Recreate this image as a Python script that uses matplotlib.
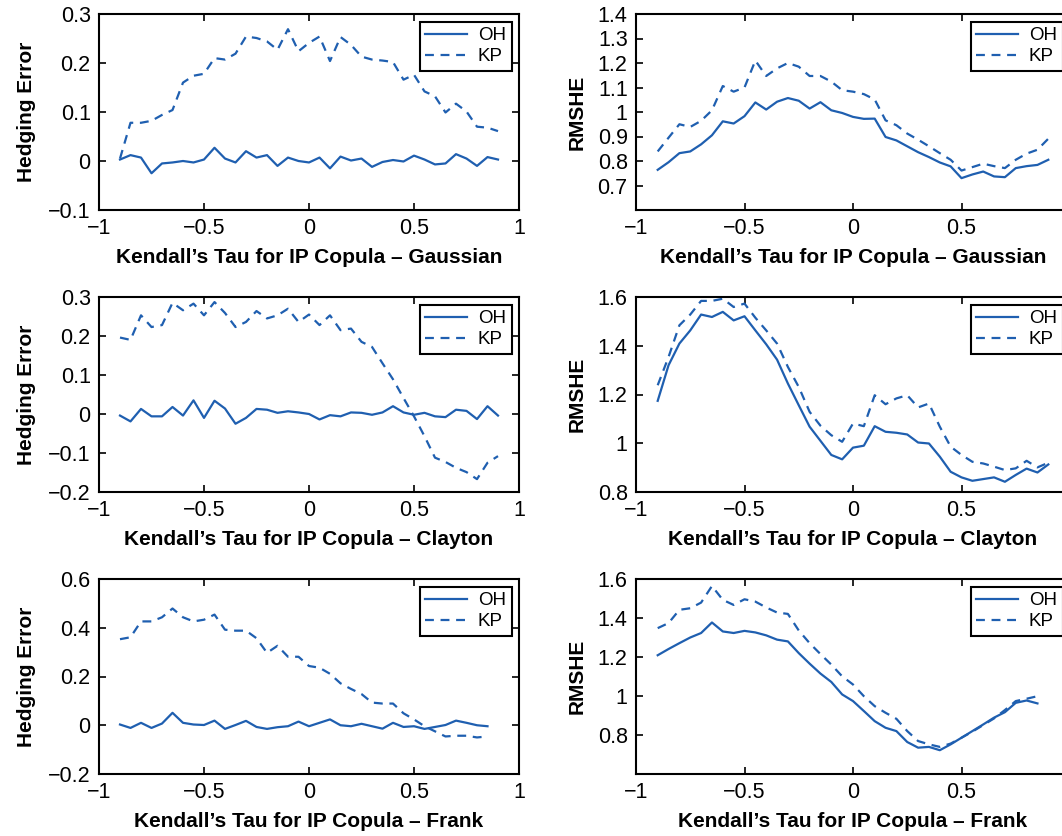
import numpy as np
import matplotlib
matplotlib.use('Agg')
import matplotlib.pyplot as plt

plt.rcParams['font.family'] = ['Liberation Sans', 'DejaVu Sans']

BLUE = '#1f5fb0'

# Kendall's tau grid
tau = np.round(np.arange(-0.9, 0.9001, 0.05), 2)
tau_frank = tau[:-1]  # Frank stops at 0.85

# Gaussian
gauss_he_oh = [0.003, 0.012, 0.007, -0.025, -0.005, -0.003, 0.0, -0.003, 0.003, 0.027,
               0.005, -0.003, 0.02, 0.007, 0.012, -0.01, 0.007, 0.0, -0.003, 0.007,
               -0.015, 0.009, 0.001, 0.005, -0.012, -0.002, 0.002, -0.001, 0.011, 0.003,
               -0.007, -0.005, 0.014, 0.005, -0.01, 0.008, 0.003]
gauss_he_kp = [0.005, 0.078, 0.078, 0.082, 0.094, 0.104, 0.16, 0.174, 0.178, 0.21,
               0.207, 0.219, 0.254, 0.251, 0.244, 0.227, 0.269, 0.224, 0.241, 0.254,
               0.204, 0.253, 0.237, 0.213, 0.207, 0.205, 0.202, 0.166, 0.176, 0.142,
               0.132, 0.099, 0.117, 0.101, 0.07, 0.068, 0.061]
gauss_rm_oh = [0.764, 0.795, 0.832, 0.839, 0.868, 0.905, 0.962, 0.953, 0.983, 1.039,
               1.01, 1.042, 1.057, 1.046, 1.014, 1.04, 1.007, 0.996, 0.98, 0.972,
               0.973, 0.898, 0.884, 0.86, 0.836, 0.816, 0.794, 0.778, 0.73, 0.745,
               0.757, 0.737, 0.734, 0.771, 0.779, 0.784, 0.805]
gauss_rm_kp = [0.839, 0.895, 0.95, 0.939, 0.964, 1.007, 1.106, 1.083, 1.1, 1.21,
               1.147, 1.178, 1.2, 1.185, 1.147, 1.147, 1.124, 1.089, 1.083, 1.073,
               1.051, 0.966, 0.946, 0.912, 0.887, 0.86, 0.832, 0.805, 0.761, 0.775,
               0.789, 0.779, 0.771, 0.805, 0.83, 0.846, 0.891]

# Clayton
clay_he_oh = [-0.004, -0.019, 0.013, -0.006, -0.006, 0.018, -0.004, 0.035, -0.01, 0.034,
              0.014, -0.025, -0.01, 0.013, 0.011, 0.003, 0.007, 0.004, 0.0, -0.014,
              -0.003, -0.006, 0.004, 0.003, -0.002, 0.004, 0.02, 0.004, -0.002, 0.003,
              -0.006, -0.008, 0.011, 0.008, -0.013, 0.02, -0.004]
clay_he_kp = [0.196, 0.19, 0.253, 0.223, 0.228, 0.285, 0.266, 0.283, 0.253, 0.287,
              0.259, 0.223, 0.236, 0.264, 0.245, 0.253, 0.27, 0.236, 0.255, 0.228,
              0.253, 0.215, 0.219, 0.185, 0.172, 0.13, 0.089, 0.041, -0.006, -0.057,
              -0.112, -0.123, -0.138, -0.149, -0.167, -0.125, -0.108]
clay_rm_oh = [1.174, 1.32, 1.409, 1.463, 1.528, 1.518, 1.539, 1.504, 1.521, 1.463,
              1.406, 1.343, 1.245, 1.156, 1.068, 1.01, 0.952, 0.934, 0.982, 0.99,
              1.07, 1.047, 1.043, 1.036, 1.003, 0.999, 0.945, 0.883, 0.86, 0.846,
              0.853, 0.86, 0.842, 0.87, 0.896, 0.88, 0.913]
clay_rm_kp = [1.238, 1.354, 1.484, 1.528, 1.584, 1.584, 1.593, 1.559, 1.573, 1.515,
              1.463, 1.409, 1.313, 1.231, 1.129, 1.072, 1.033, 1.006, 1.081, 1.07,
              1.197, 1.16, 1.184, 1.197, 1.147, 1.163, 1.068, 0.986, 0.952, 0.924,
              0.917, 0.904, 0.89, 0.897, 0.928, 0.901, 0.92]

# Frank
frank_he_oh = [0.003, -0.011, 0.01, -0.011, 0.007, 0.051, 0.01, 0.003, 0.001, 0.019,
               -0.015, 0.001, 0.018, -0.007, -0.015, -0.008, -0.004, 0.015, -0.004, 0.01,
               0.024, 0.0, -0.004, 0.006, -0.004, -0.014, 0.01, -0.007, -0.004, -0.015,
               -0.007, 0.001, 0.019, 0.01, 0.0, -0.004]
frank_he_kp = [0.353, 0.361, 0.426, 0.426, 0.443, 0.479, 0.443, 0.426, 0.433, 0.454,
               0.392, 0.388, 0.388, 0.357, 0.297, 0.326, 0.281, 0.281, 0.243, 0.236,
               0.211, 0.172, 0.149, 0.128, 0.093, 0.089, 0.089, 0.049, 0.024, -0.004,
               -0.025, -0.046, -0.043, -0.043, -0.05, -0.046]
frank_rm_oh = [1.209, 1.241, 1.271, 1.3, 1.323, 1.377, 1.331, 1.323, 1.334, 1.326,
               1.311, 1.289, 1.28, 1.22, 1.166, 1.115, 1.072, 1.008, 0.974, 0.923,
               0.871, 0.837, 0.82, 0.764, 0.735, 0.739, 0.722, 0.752, 0.786, 0.82,
               0.854, 0.889, 0.917, 0.965, 0.977, 0.962]
frank_rm_kp = [1.348, 1.374, 1.442, 1.45, 1.479, 1.564, 1.493, 1.467, 1.496, 1.484,
               1.454, 1.428, 1.421, 1.336, 1.271, 1.215, 1.161, 1.101, 1.059, 0.999,
               0.948, 0.914, 0.883, 0.82, 0.769, 0.752, 0.739, 0.756, 0.786, 0.817,
               0.851, 0.885, 0.928, 0.974, 0.986, 0.999]

W, H = 1062, 836
fig = plt.figure(figsize=(W / 100, H / 100), dpi=100)

# axes boxes in pixels: (left, right) and (top, bottom)
left_x = (99, 519)
right_x = (636, 1070)   # right column runs past the figure edge, as in the original
rows_y = [(14, 210), (297, 492), (579, 774)]


def make_ax(xs, ys):
    x0, x1 = xs
    y0, y1 = ys
    return fig.add_axes([x0 / W, (H - y1) / H, (x1 - x0) / W, (y1 - y0) / H])


panels = [
    # (row, col, x, oh, kp, ylim, yticks, ylabel, copula)
    (0, 0, tau, gauss_he_oh, gauss_he_kp, (-0.1, 0.3), [-0.1, 0, 0.1, 0.2, 0.3], 'Hedging Error', 'Gaussian'),
    (0, 1, tau, gauss_rm_oh, gauss_rm_kp, (0.6, 1.4), [0.7, 0.8, 0.9, 1, 1.1, 1.2, 1.3, 1.4], 'RMSHE', 'Gaussian'),
    (1, 0, tau, clay_he_oh, clay_he_kp, (-0.2, 0.3), [-0.2, -0.1, 0, 0.1, 0.2, 0.3], 'Hedging Error', 'Clayton'),
    (1, 1, tau, clay_rm_oh, clay_rm_kp, (0.8, 1.6), [0.8, 1, 1.2, 1.4, 1.6], 'RMSHE', 'Clayton'),
    (2, 0, tau_frank, frank_he_oh, frank_he_kp, (-0.2, 0.6), [-0.2, 0, 0.2, 0.4, 0.6], 'Hedging Error', 'Frank'),
    (2, 1, tau_frank, frank_rm_oh, frank_rm_kp, (0.6, 1.6), [0.8, 1, 1.2, 1.4, 1.6], 'RMSHE', 'Frank'),
]


def fmt(v):
    return ('%g' % v).replace('-', '\u2212')


for row, col, x, oh, kp, ylim, yticks, ylabel, copula in panels:
    ax = make_ax(left_x if col == 0 else right_x, rows_y[row])
    ax.plot(x, oh, color=BLUE, lw=1.6, label='OH')
    ax.plot(x, kp, color=BLUE, lw=1.6, ls=(0, (4, 3)), label='KP')
    ax.set_xlim(-1, 1)
    ax.set_ylim(*ylim)
    # the tick at 1 on the right column falls outside the picture
    xt = [-1, -0.5, 0, 0.5, 1] if col == 0 else [-1, -0.5, 0, 0.5]
    ax.set_xticks(xt)
    ax.set_xticklabels([fmt(v) for v in xt])
    ax.set_yticks(yticks)
    ax.set_yticklabels([fmt(v) for v in yticks])
    ax.tick_params(direction='in', length=5, width=1.2, top=True, right=True,
                   labelsize=15.5)
    ax.tick_params(axis='x', pad=6)
    ax.tick_params(axis='y', pad=6)
    for sp in ax.spines.values():
        sp.set_linewidth(1.5)
    ax.set_xlabel("Kendall\u2019s Tau for IP Copula \u2013 " + copula,
                  fontsize=15, fontweight='bold', labelpad=6)
    ax.set_ylabel(ylabel, fontsize=15, fontweight='bold',
                  labelpad=9 if col == 0 else 8)
    leg = ax.legend(loc='upper right', fontsize=13.5, fancybox=False, framealpha=1,
                    edgecolor='black', handlelength=2.2, borderaxespad=0.4,
                    handletextpad=0.6, borderpad=0.3, labelspacing=0.2)
    leg.get_frame().set_linewidth(1.5)

fig.savefig('out.png', dpi=100)
